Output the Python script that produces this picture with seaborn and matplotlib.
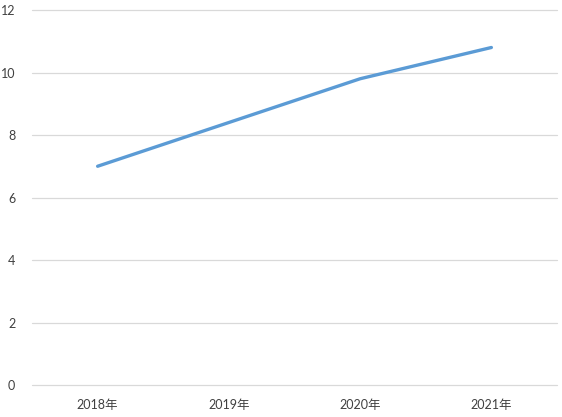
import matplotlib
matplotlib.use("Agg")
import matplotlib.pyplot as plt
import seaborn as sns
import pandas as pd

years = ["2018年", "2019年", "2020年", "2021年"]
values = [7.0, 8.4, 9.8, 10.8]
y_ticks = [0, 2, 4, 6, 8, 10, 12]

sns.set_style("white")
plt.rcParams['font.family'] = ['Lato', 'Noto Sans CJK SC', 'DejaVu Sans']

df = pd.DataFrame({"year": years, "value": values})

fig = plt.figure(figsize=(5.62, 4.17), dpi=100)
ax = fig.add_axes([32/562, 1-385/417, 525/562, 375/417])
sns.lineplot(data=df, x="year", y="value", ax=ax, color="#5B9BD5", linewidth=2.4, sort=False)
ax.set_xlim(-0.5, 3.5)
ax.set_ylim(0, 12)
ax.set_yticks(y_ticks)
ax.yaxis.grid(True, color="#D9D9D9", linewidth=0.9)
for gl in ax.get_ygridlines():
    gl.set_clip_on(False)
ax.set_axisbelow(True)
for s in ax.spines.values():
    s.set_visible(False)
ax.tick_params(axis="both", length=0, labelsize=9, labelcolor="#404040")
ax.tick_params(axis="y", pad=12)
ax.tick_params(axis="x", pad=10)
ax.set_xlabel("")
ax.set_ylabel("")
fig.savefig("out.png", dpi=100, facecolor="white")
